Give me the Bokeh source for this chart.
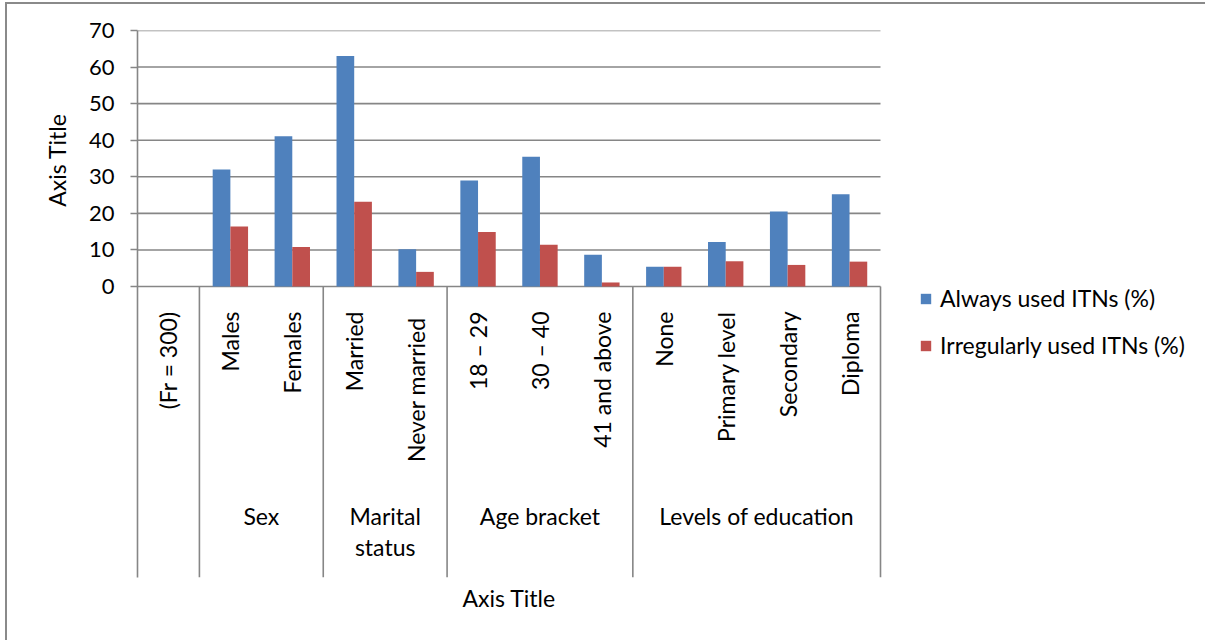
import math
from bokeh.plotting import figure
from bokeh.models import (Range1d, ColumnDataSource, FixedTicker,
                          Legend, LegendItem, Title)
from bokeh.core.properties import value
from bokeh.embed import file_html
from bokeh.resources import INLINE

NaN = float("nan")

# ---------------- data ----------------
categories = ["(Fr = 300)", "Males", "Females", "Married", "Never  married",
              "18 \u2013 29", "30 \u2013 40", "41 and above",
              "None", "Primary level", "Secondary", "Diploma"]
always_used = [NaN, 32.0, 41.1, 63.0, 10.2, 29.0, 35.5, 8.7, 5.4, 12.2, 20.5, 25.2]
irregular_used = [NaN, 16.4, 10.8, 23.2, 4.0, 14.9, 11.4, 1.1, 5.4, 6.9, 5.9, 6.8]
series_names = ["Always used ITNs (%)", "Irregularly used ITNs (%)"]
group_names = ["Sex", "Marital\nstatus", "Age bracket", "Levels of education"]
group_members = [["Males", "Females"],
                 ["Married", "Never  married"],
                 ["18 \u2013 29", "30 \u2013 40", "41 and above"],
                 ["None", "Primary level", "Secondary", "Diploma"]]
y_ticks = [0, 10, 20, 30, 40, 50, 60, 70]
axis_title = "Axis Title"

# ---------------- style ----------------
FONT = "Lato"
FS = "23px"
TICK_FS = "22px"
BLUE = "#4F81BD"
RED = "#C0504D"
GRID = "#868686"
LW = 1.6

n = len(categories)
cat_px = 743.0 / n                 # pixel width of one category slot
frame_w, frame_h = 1068, 547       # frame reaches the right edge (room for legend)
plot_px = 256.0                    # pixel height of 0..70
y_max = 70
px_per_unit = plot_px / y_max
y_min = -(frame_h - plot_px) / px_per_unit
x_max = frame_w / cat_px

p = figure(x_range=Range1d(0, x_max), y_range=Range1d(y_min, y_max),
           frame_width=frame_w, frame_height=frame_h,
           min_border_left=130, min_border_right=0,
           min_border_top=26, min_border_bottom=63,
           output_backend="svg", toolbar_location=None,
           background_fill_color="white", border_fill_color="white")
p.styles = {"margin-left": "5px", "margin-top": "2px",
            "border-left": "2px solid #8a8a8a", "border-top": "2px solid #8a8a8a"}
p.outline_line_color = None
p.grid.visible = False

idx = {c: i for i, c in enumerate(categories)}
centers = [i + 0.5 for i in range(n)]
bw = 1 / 3.5
src = ColumnDataSource(dict(xa=[c - bw / 2 for c in centers],
                            xi=[c + bw / 2 for c in centers],
                            always=always_used, irregular=irregular_used))

# horizontal gridlines (only across the category area)
p.segment(x0=[0] * len(y_ticks), x1=[n] * len(y_ticks), y0=y_ticks, y1=y_ticks,
          line_color=GRID, line_width=LW)

r1 = p.vbar(x="xa", top="always", bottom=0, width=bw, source=src,
            fill_color=BLUE, line_color=None)
r2 = p.vbar(x="xi", top="irregular", bottom=0, width=bw, source=src,
            fill_color=RED, line_color=None)

# y axis
p.yaxis.ticker = FixedTicker(ticks=y_ticks)
p.yaxis.axis_line_color = GRID
p.yaxis.axis_line_width = LW
p.yaxis.major_tick_line_color = GRID
p.yaxis.major_tick_line_width = LW
p.yaxis.major_tick_out = 7
p.yaxis.major_tick_in = 0
p.yaxis.minor_tick_line_color = None
p.yaxis.major_label_text_font = FONT
p.yaxis.major_label_text_font_size = TICK_FS
p.yaxis.major_label_text_color = "black"
p.yaxis.major_label_standoff = 16
p.yaxis.axis_label = None
p.xaxis.visible = False

# y axis title, placed beside the 0..70 part of the frame
p.add_layout(Title(text=axis_title, align="right", text_font=FONT, text_font_size=FS,
                   text_font_style="normal", text_color="black", standoff=30,
                   offset=83), "left")

# group separators (category boundaries)
sep_x = [idx[g[0]] for g in group_members] + [idx[group_members[-1][-1]] + 1]
p.segment(x0=sep_x, x1=sep_x, y0=[0] * len(sep_x), y1=[y_min] * len(sep_x),
          line_color=GRID, line_width=LW)

# category labels (vertical)
lab_y = -25 / px_per_unit
p.text(x=centers, y=[lab_y] * n, text=categories, angle=math.pi / 2,
       text_align="right", text_baseline="middle", text_font=value(FONT),
       text_font_size=FS, text_color="black")

# group labels
grp_x = [(idx[g[0]] + idx[g[-1]] + 1) / 2 for g in group_members]
grp_y = -(215) / px_per_unit
p.text(x=grp_x, y=[grp_y] * len(grp_x), text=group_names, text_align="center",
       text_baseline="top", text_font=value(FONT), text_font_size=FS,
       text_color="black", text_line_height=1.12)

# x axis title (under the category area)
p.add_layout(Title(text=axis_title, align="left", text_font=FONT, text_font_size=FS,
                   text_font_style="normal", text_color="black", standoff=8,
                   offset=325), "below")

legend = Legend(items=[LegendItem(label=series_names[0], renderers=[r1]),
                       LegendItem(label=series_names[1], renderers=[r2])],
                location=(782, 218), orientation="vertical",
                glyph_width=13, glyph_height=13, label_height=25, spacing=19,
                label_standoff=8, padding=0, margin=0,
                label_text_font=FONT, label_text_font_size=FS, label_text_color="black",
                border_line_color=None, background_fill_alpha=0)
p.add_layout(legend, "center")

open("out.html", "w").write(file_html(p, INLINE))
